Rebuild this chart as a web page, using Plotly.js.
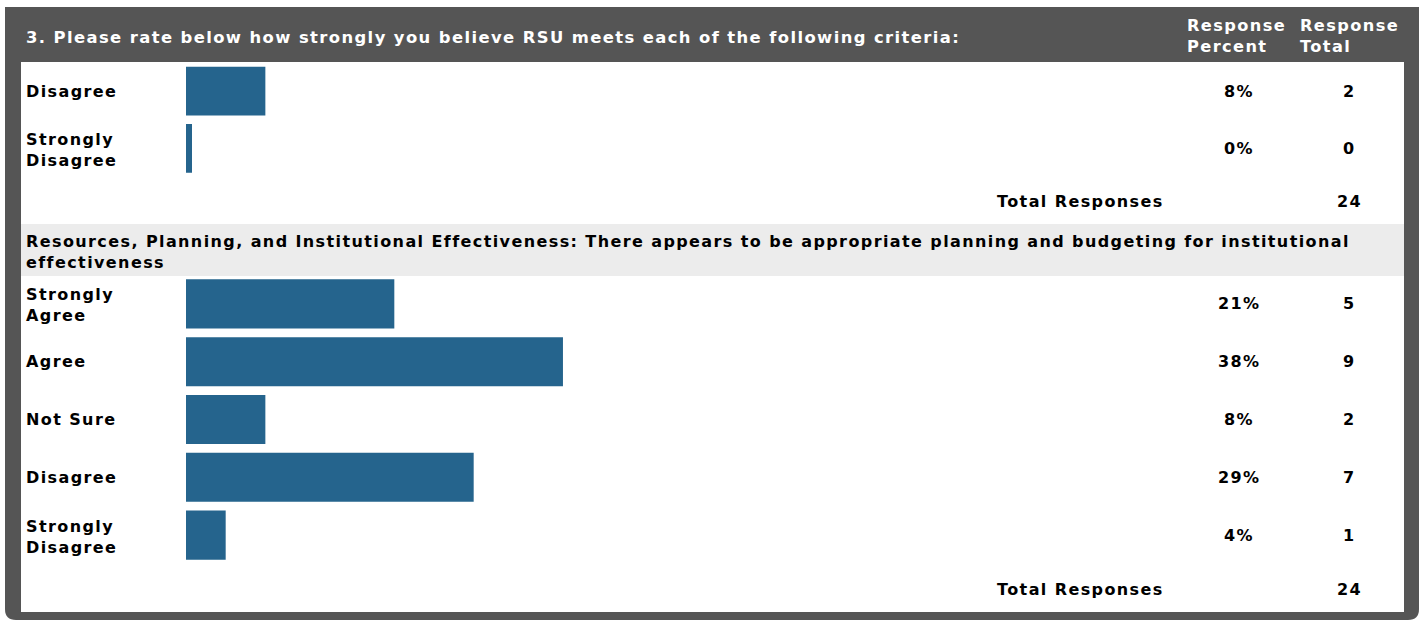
<!DOCTYPE html>
<html>
<head>
<meta charset="utf-8">
<script src="https://cdn.plot.ly/plotly-3.0.1.min.js"></script>
<style>
  html, body { margin: 0; padding: 0; background: #ffffff; }
  #chart { width: 1419px; height: 620px; }
  text { letter-spacing: 1.4px; }
</style>
</head>
<body>
<div id="chart"></div>
<script>
// ---------- data ----------
const questionTitle = '3. Please rate below how strongly you believe RSU meets each of the following criteria:';
const headerPercent = 'Response<br>Percent';
const headerTotal = 'Response<br>Total';

const section1Categories = ['Disagree', 'Strongly Disagree'];
const section1Percent = [8, 0];
const section1Count = [2, 0];
const section1Total = 24;

const section2Title = 'Resources, Planning, and Institutional Effectiveness: There appears to be appropriate planning and budgeting for institutional<br>effectiveness';
const section2Categories = ['Strongly Agree', 'Agree', 'Not Sure', 'Disagree', 'Strongly Disagree'];
const section2Percent = [21, 38, 8, 29, 4];
const section2Count = [5, 9, 2, 7, 1];
const section2Total = 24;

const totalLabel = 'Total Responses';

// ---------- layout helpers ----------
const W = 1419, H = 620;
const px = v => v / W;
const py = v => 1 - v / H;
const BAR = '#25648d';
const DARK = '#555555';
const FONT = 'Verdana, "DejaVu Sans", sans-serif';
const txt = (size, color) => ({ family: FONT, size: size, color: color, weight: 'bold' });

function wrapLabel(s) { return s.replace(/^Strongly /, 'Strongly<br>'); }

const traces = [
  {
    type: 'bar', orientation: 'h',
    x: section1Percent, y: section1Categories,
    xaxis: 'x', yaxis: 'y',
    marker: { color: BAR, line: { color: BAR, width: section1Percent.map(v => v === 0 ? 12 : 0) } },
    hoverinfo: 'skip'
  },
  {
    type: 'bar', orientation: 'h',
    x: section2Percent, y: section2Categories,
    xaxis: 'x', yaxis: 'y2',
    marker: { color: BAR, line: { color: BAR, width: section2Percent.map(v => v === 0 ? 12 : 0) } },
    hoverinfo: 'skip'
  }
];

const annotations = [];
function addAnno(o) {
  annotations.push(Object.assign({ showarrow: false, xref: 'paper', yref: 'paper' }, o));
}
// header
addAnno({ x: px(24), y: py(37), xanchor: 'left', yanchor: 'middle', text: questionTitle, font: txt(16.4, '#ffffff') });
addAnno({ x: px(1185), y: py(36), xanchor: 'left', yanchor: 'middle', align: 'left', text: headerPercent, font: txt(16.2, '#ffffff') });
addAnno({ x: px(1298), y: py(36), xanchor: 'left', yanchor: 'middle', align: 'left', text: headerTotal, font: txt(16.2, '#ffffff') });

function addRows(cats, pcts, counts, yref) {
  cats.forEach((c, i) => {
    const label = wrapLabel(c);
    addAnno({ x: px(24), y: c, yref: yref, yshift: label.includes('<br>') ? -1.5 : 0, xanchor: 'left', yanchor: 'middle', align: 'left', text: label, font: txt(16, '#000000') });
    addAnno({ x: px(1239), y: c, yref: yref, xanchor: 'center', yanchor: 'middle', text: pcts[i] + '%', font: txt(16, '#000000') });
    addAnno({ x: px(1349), y: c, yref: yref, xanchor: 'center', yanchor: 'middle', text: String(counts[i]), font: txt(16, '#000000') });
  });
}
addRows(section1Categories, section1Percent, section1Count, 'y');
addRows(section2Categories, section2Percent, section2Count, 'y2');

// totals
addAnno({ x: px(1166), y: py(201), xanchor: 'right', yanchor: 'middle', text: totalLabel, font: txt(16, '#000000') });
addAnno({ x: px(1349), y: py(201), xanchor: 'center', yanchor: 'middle', text: String(section1Total), font: txt(16, '#000000') });
addAnno({ x: px(1166), y: py(589), xanchor: 'right', yanchor: 'middle', text: totalLabel, font: txt(16, '#000000') });
addAnno({ x: px(1349), y: py(589), xanchor: 'center', yanchor: 'middle', text: String(section2Total), font: txt(16, '#000000') });

// section 2 title
addAnno({ x: px(24), y: py(252.5), xanchor: 'left', yanchor: 'middle', align: 'left', text: section2Title, font: txt(16, '#000000') });

// panel shapes
const r = 11;
const shapes = [
  { type: 'path', xref: 'paper', yref: 'paper', path: `M ${px(5)},${py(7)} L ${px(1419)},${py(7)} L ${px(1419)},${py(620 - r)} Q ${px(1419)},${py(620)} ${px(1419 - r)},${py(620)} L ${px(5 + r)},${py(620)} Q ${px(5)},${py(620)} ${px(5)},${py(620 - r)} Z`,
    fillcolor: DARK, line: { width: 0 }, layer: 'below' },
  { type: 'rect', xref: 'paper', yref: 'paper', x0: px(21), x1: px(1404), y0: py(62), y1: py(612),
    fillcolor: '#ffffff', line: { width: 0 }, layer: 'below' },
  { type: 'rect', xref: 'paper', yref: 'paper', x0: px(21), x1: px(1404), y0: py(224), y1: py(276),
    fillcolor: '#ececec', line: { width: 0 }, layer: 'below' }
];

const layout = {
  width: W, height: H,
  margin: { l: 0, r: 0, t: 0, b: 0, pad: 0 },
  paper_bgcolor: '#ffffff',
  plot_bgcolor: 'rgba(0,0,0,0)',
  showlegend: false,
  bargap: 0.15,
  xaxis: { domain: [px(186), px(1178)], range: [0, 100], visible: false, fixedrange: true },
  yaxis: { domain: [py(177), py(62.5)], type: 'category', autorange: 'reversed', visible: false, fixedrange: true },
  yaxis2: { domain: [py(564), py(275)], type: 'category', autorange: 'reversed', visible: false, fixedrange: true, anchor: 'x' },
  shapes: shapes,
  annotations: annotations
};

Plotly.newPlot('chart', traces, layout, { displayModeBar: false, staticPlot: true });
</script>
</body>
</html>
